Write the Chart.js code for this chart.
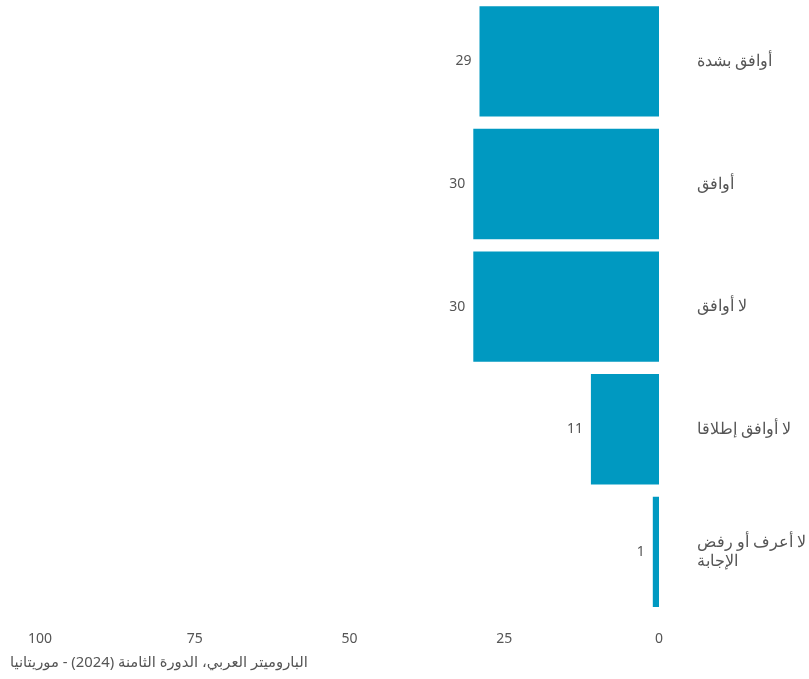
<!DOCTYPE html>
<html>
<head>
<meta charset="utf-8">
<script src="https://cdn.jsdelivr.net/npm/chart.js@4"></script>
<style>
  body { margin: 0; background: #fff; font-family: "Noto Sans", "DejaVu Sans", sans-serif; }
  #wrap { position: relative; width: 809px; height: 668px; }
  .source { position: absolute; left: 10px; top: 651px; font-size: 14.8px; color: #555; direction: rtl; }
</style>
</head>
<body>
<div id="wrap"><canvas class="bar-chart"></canvas></div>
<div class="source">الباروميتر العربي، الدورة الثامنة (2024) - موريتانيا</div>
<script>
const categories = ['أوافق بشدة', 'أوافق', 'لا أوافق', 'لا أوافق إطلاقا', ['لا أعرف أو رفض', 'الإجابة']];
const values = [29, 30, 30, 11, 1];
const xTicks = [0, 25, 50, 75, 100];

// draw the value next to each bar
const valueLabels = {
    id: 'valueLabels',
    afterDatasetsDraw(chart) {
        const ctx = chart.ctx;
        const meta = chart.getDatasetMeta(0);
        ctx.save();
        ctx.font = '14px "Noto Sans", sans-serif';
        ctx.fillStyle = '#555';
        ctx.textAlign = 'right';
        ctx.textBaseline = 'middle';
        meta.data.forEach((bar, i) => {
            ctx.fillText(values[i], bar.x - 8, bar.y);
        });
        ctx.restore();
    }
};

const ctx = document.querySelector('.bar-chart');

new Chart(ctx, {
    type: 'bar',
    data: {
        labels: categories,
        datasets: [{
            data: values,
            backgroundColor: '#0099c1',
            barPercentage: 0.9,
            categoryPercentage: 1
        }]
    },
    options: {
        indexAxis: 'y',
        responsive: true,
        maintainAspectRatio: false,
        animation: false,
        layout: { padding: { top: 0, left: 40, right: 0, bottom: 4 } },
        scales: {
            x: {
                reverse: true,
                min: 0,
                max: 100,
                afterBuildTicks(axis) {
                    axis.ticks = xTicks.map(v => ({ value: v }));
                },
                grid: { display: false, drawTicks: false },
                border: { display: false },
                ticks: {
                    padding: 17,
                    color: '#555',
                    font: { size: 14, family: '"Noto Sans", sans-serif' }
                }
            },
            y: {
                position: 'right',
                grid: { display: false, drawTicks: false },
                border: { display: false },
                afterFit(axis) {
                    axis.width = 150;
                    axis.paddingTop = 0;
                    axis.paddingBottom = 0;
                },
                ticks: {
                    padding: 38,
                    color: '#555',
                    font: { size: 16, family: '"Noto Sans", sans-serif' }
                }
            }
        },
        plugins: {
            legend: { display: false },
            tooltip: { enabled: false }
        }
    },
    plugins: [valueLabels]
});
</script>
</body>
</html>
